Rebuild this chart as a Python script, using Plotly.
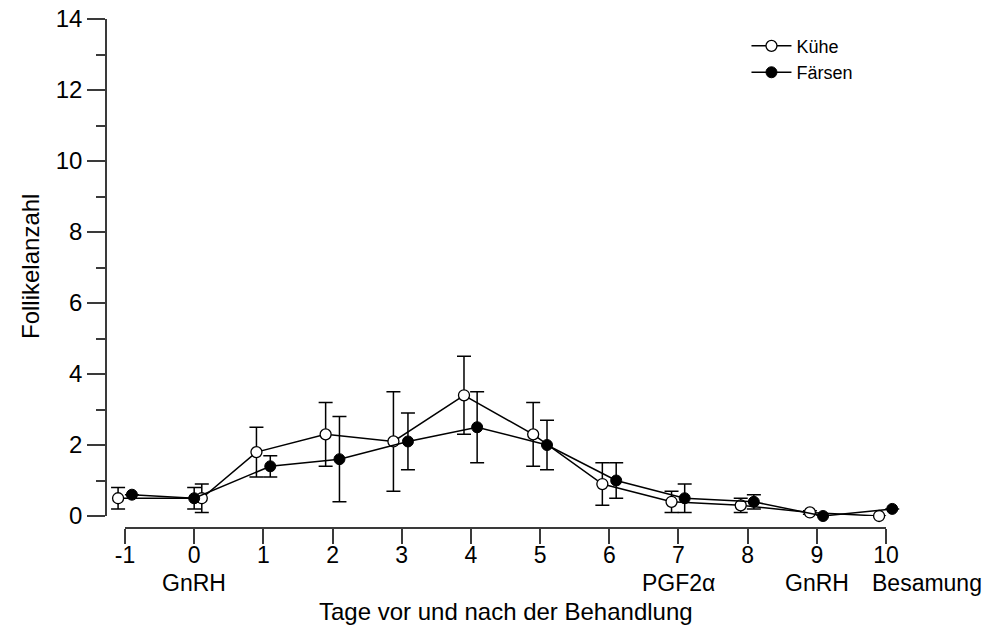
import plotly.graph_objects as go

# ---- data ----
days = [-1, 0, 1, 2, 3, 4, 5, 6, 7, 8, 9, 10]
tick_labels = ["-1", "0", "1", "2", "3", "4", "5", "6", "7", "8", "9", "10"]
kuehe_mean = [0.5, 0.5, 1.8, 2.3, 2.1, 3.4, 2.3, 0.9, 0.4, 0.3, 0.1, 0.0]
kuehe_err = [0.3, 0.4, 0.7, 0.9, 1.4, 1.1, 0.9, 0.6, 0.3, 0.2, 0.05, 0.0]
faersen_mean = [0.6, 0.5, 1.4, 1.6, 2.1, 2.5, 2.0, 1.0, 0.5, 0.4, 0.0, 0.2]
faersen_err = [0.0, 0.3, 0.3, 1.2, 0.8, 1.0, 0.7, 0.5, 0.4, 0.2, 0.0, 0.0]
treat_days = [0, 7, 9]
treat_labels = ["GnRH", "PGF2α", "GnRH"]
final_day = 10
final_label = "Besamung"
x_title = "Tage vor und nach der Behandlung"
y_title = "Follikelanzahl"

# ---- display offsets (horizontal dodge of the two series) ----
kuehe_dodge = [-0.1, 0.11, -0.1, -0.1, -0.12, -0.1, -0.1, -0.1, -0.1, -0.1, -0.1, -0.1]
faersen_dodge = [0.1, 0.0, 0.1, 0.1, 0.09, 0.09, 0.1, 0.1, 0.09, 0.09, 0.09, 0.09]

kx = [d + o for d, o in zip(days, kuehe_dodge)]
fx = [d + o for d, o in zip(days, faersen_dodge)]
kerr = [e if e > 0 else None for e in kuehe_err]
ferr = [e if e > 0 else None for e in faersen_err]

FONT = "Liberation Sans, Arial, sans-serif"
AXC = "#3a3a3a"
FS = 24
FT = 23

fig = go.Figure()
fig.add_trace(go.Scatter(
    x=kx, y=kuehe_mean, name="Kühe", mode="lines+markers",
    line=dict(color="black", width=1.5),
    marker=dict(symbol="circle", size=11, color="white", line=dict(color="black", width=1.3)),
    error_y=dict(type="data", array=kerr, visible=True, color="black", thickness=1.5, width=7),
    cliponaxis=False,
))
fig.add_trace(go.Scatter(
    x=fx, y=faersen_mean, name="Färsen", mode="lines+markers",
    line=dict(color="black", width=1.5),
    marker=dict(symbol="circle", size=11, color="black", line=dict(color="black", width=1)),
    error_y=dict(type="data", array=ferr, visible=True, color="black", thickness=1.5, width=7),
    cliponaxis=False,
))
# invisible trace so the separate tick axis renders
fig.add_trace(go.Scatter(x=days, y=[None] * len(days), xaxis="x2", yaxis="y",
                         showlegend=False, hoverinfo="skip", mode="markers"))

W, H = 1008, 630
left, right_px, top, bottom_px = 107, 930, 19, 528
pw = right_px - left
ph = bottom_px - top
px_per_unit = (886 - 125) / 11.0
x0 = -1 - (125 - left) / px_per_unit
x1 = 10 + (right_px - 886) / px_per_unit
d0 = (125 - left) / pw
d1 = (886 - left) / pw
ydom0 = (bottom_px - 516) / ph

tfont = dict(family=FONT, size=FS, color="black")
lfont = dict(family=FONT, size=FT, color="black")
annotations = []
for d, t in zip(treat_days, treat_labels):
    annotations.append(dict(x=d, y=0, xref="x2", yref="paper", text=t, showarrow=False,
                            xanchor="center", yanchor="middle", yshift=-(583 - bottom_px),
                            borderpad=0, font=lfont))
annotations.append(dict(x=final_day, y=0, xref="x2", yref="paper", text=final_label, showarrow=False,
                        xanchor="left", yanchor="middle", yshift=-(583 - bottom_px), xshift=-15,
                        borderpad=0, font=lfont))
annotations.append(dict(x=(d0 + d1) / 2, y=0, xref="paper", yref="paper", text=x_title,
                        showarrow=False, xanchor="center", yanchor="middle",
                        yshift=-(611 - bottom_px), font=tfont))
annotations.append(dict(x=0, y=(bottom_px - 267) / ph, xref="paper", yref="paper", text=y_title,
                        showarrow=False, xanchor="center", yanchor="middle", textangle=-90,
                        xshift=-(left - 30), font=tfont))

fig.update_layout(
    width=W, height=H,
    margin=dict(l=left, r=W - right_px, t=top, b=H - bottom_px, pad=0, autoexpand=False),
    paper_bgcolor="white", plot_bgcolor="rgba(0,0,0,0)",
    font=tfont,
    showlegend=True,
    legend=dict(x=0.777, y=0.983, xanchor="left", yanchor="top", bgcolor="rgba(0,0,0,0)",
                font=dict(family=FONT, size=18, color="black"), tracegroupgap=0, itemwidth=40),
    xaxis=dict(range=[x0, x1], domain=[0, 1], visible=False, showgrid=False, zeroline=False,
               automargin=False),
    xaxis2=dict(range=[-1, 10], domain=[d0, d1], anchor="free", position=0, automargin=False,
                showline=True, linecolor=AXC, linewidth=1.5, ticks="outside", ticklen=15,
                tickwidth=1.5, tickcolor=AXC, tickvals=days, ticktext=tick_labels,
                ticklabelstandoff=-8,
                showgrid=False, zeroline=False, tickfont=lfont),
    yaxis=dict(range=[0, 14], domain=[ydom0, 1], anchor="x", showline=True, linecolor=AXC,
               automargin=False,
               linewidth=1.5, ticks="outside", ticklen=18, tickwidth=1.5, tickcolor=AXC,
               dtick=2, tick0=0, showgrid=False, zeroline=False,
               minor=dict(dtick=1, ticks="outside", ticklen=9, tickwidth=1.5, tickcolor=AXC, showgrid=False),
               tickfont=tfont),
    annotations=annotations,
)

fig.write_html("out.html")
